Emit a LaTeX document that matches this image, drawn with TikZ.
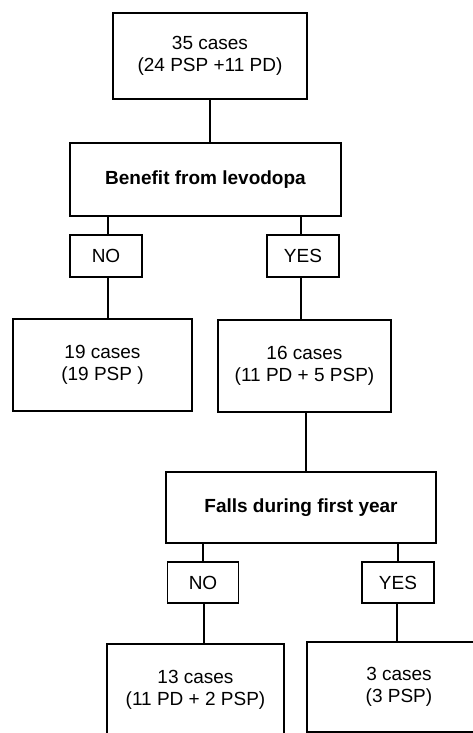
\documentclass[tikz,border=0pt]{standalone}
\usepackage{fontspec}
\setmainfont{Liberation Sans}
\begin{document}
\begin{tikzpicture}[x=1pt,y=-1pt,
  box/.style={draw, line width=1.5pt, inner sep=0pt, align=center,
    font=\fontsize{19}{21.5}\selectfont},
  ln/.style={line width=1.5pt}]
\useasboundingbox (0,0) rectangle (472,733);
% boxes: center (cx,cy), size
\node[box, minimum width=194, minimum height=86] (top) at (210,56) {35 cases\\(24 PSP +11 PD)};
\node[box, minimum width=271, minimum height=73, font=\fontsize{19}{21.5}\selectfont\bfseries] (ben) at (205.5,179.5) {Benefit from levodopa};
\node[box, minimum width=72, minimum height=42] (no1) at (106,256) {NO};
\node[box, minimum width=72, minimum height=42] (yes1) at (303,256) {YES};
\node[box, minimum width=179, minimum height=92] (c19) at (102.5,365) {19 cases\\(19 PSP )};
\node[box, minimum width=173, minimum height=92] (c16) at (304.5,366) {16 cases\\(11 PD + 5 PSP)};
\node[box, minimum width=270, minimum height=71, font=\fontsize{19}{21.5}\selectfont\bfseries] (falls) at (301,507.5) {Falls during first year};
\node[box, minimum width=71, minimum height=41] (no2) at (203,582.5) {NO};
\node[box, minimum width=72, minimum height=41] (yes2) at (398,582.5) {YES};
\node[box, minimum width=177, minimum height=92] (c13) at (195.5,690) {13 cases\\(11 PD + 2 PSP)};
\node[box, minimum width=184, minimum height=90] (c3) at (399,687) {3 cases\\(3 PSP)};
% connectors
\draw[ln] (top.south) -- (top.south |- ben.north);
\draw[ln] ([xshift=2pt]no1.north) -- ([xshift=2pt]no1.north |- ben.south);
\draw[ln] ([xshift=-2pt]yes1.north) -- ([xshift=-2pt]yes1.north |- ben.south);
\draw[ln] ([xshift=2pt]no1.south) -- ([xshift=2pt]no1.south |- c19.north);
\draw[ln] ([xshift=-2pt]yes1.south) -- ([xshift=-2pt]yes1.south |- c16.north);
\draw[ln] ([xshift=1.5pt]c16.south) -- ([xshift=1.5pt]c16.south |- falls.north);
\draw[ln] (no2.north) -- (no2.north |- falls.south);
\draw[ln] (yes2.north) -- (yes2.north |- falls.south);
\draw[ln] ([xshift=1pt]no2.south) -- ([xshift=1pt]no2.south |- c13.north);
\draw[ln] ([xshift=-1pt]yes2.south) -- ([xshift=-1pt]yes2.south |- c3.north);
\end{tikzpicture}
\end{document}
